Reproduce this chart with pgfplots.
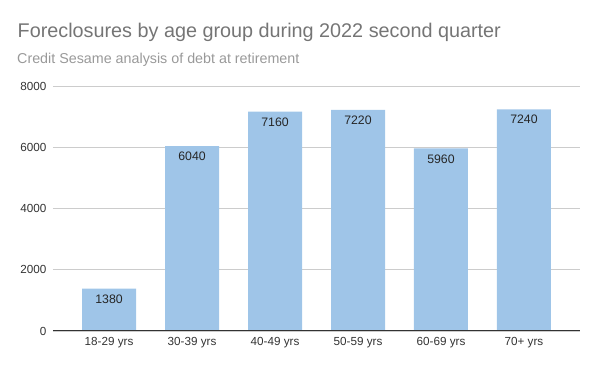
\documentclass[border=0pt]{standalone}
\usepackage{pgfplots}
\pgfplotsset{compat=1.18}
\usepackage{fontspec}
\setmainfont{Liberation Sans}
\definecolor{barblue}{HTML}{9FC5E8}
\definecolor{gridgray}{HTML}{CCCCCC}
\definecolor{titlegray}{HTML}{757575}
\definecolor{subgray}{HTML}{999999}
\definecolor{ticktext}{HTML}{333333}
\begin{document}
\begin{tikzpicture}
\path[use as bounding box] (0,0) rectangle (600pt,371pt);
\node[anchor=base west, inner sep=0pt, text=titlegray, font=\fontsize{19.8}{24}\selectfont] at (17.5pt,333pt) {Foreclosures by age group during 2022 second quarter};
\node[anchor=base west, inner sep=0pt, text=subgray, font=\fontsize{14.3}{16}\selectfont] at (17pt,307pt) {Credit Sesame analysis of debt at retirement};
\begin{axis}[
  at={(53pt,40pt)}, anchor=south west,
  scale only axis, width=527pt, height=245pt,
  xmin=-0.675, xmax=5.675, ymin=0, ymax=8000,
  ybar, bar width=54pt,
  xtick=data,
  xticklabels={18-29 yrs,30-39 yrs,40-49 yrs,50-59 yrs,60-69 yrs,70+ yrs},
  ytick={0,2000,4000,6000,8000},
  ymajorgrids, grid style={gridgray, line width=0.8pt},
  axis line style={draw=none},
  major tick length=0pt,
  tick label style={text=ticktext, font=\fontsize{11.7}{13}\selectfont},
  /pgf/number format/assume math mode=true,
  scaled y ticks=false,
  yticklabel style={/pgf/number format/1000 sep={}, xshift=-3pt},
  xticklabel style={yshift=-3pt},
  nodes near coords,
  every node near coord/.append style={anchor=north, yshift=-2.5pt, text=black!85, font=\fontsize{12.3}{14}\selectfont, /pgf/number format/1000 sep={}},
  clip=false,
]
\addplot[fill=barblue, draw=none] coordinates {(0,1380) (1,6040) (2,7160) (3,7220) (4,5960) (5,7240)};
\draw[black!80, line width=1pt] (axis cs:-0.675,0) -- (axis cs:5.675,0);
\end{axis}
\end{tikzpicture}
\end{document}
